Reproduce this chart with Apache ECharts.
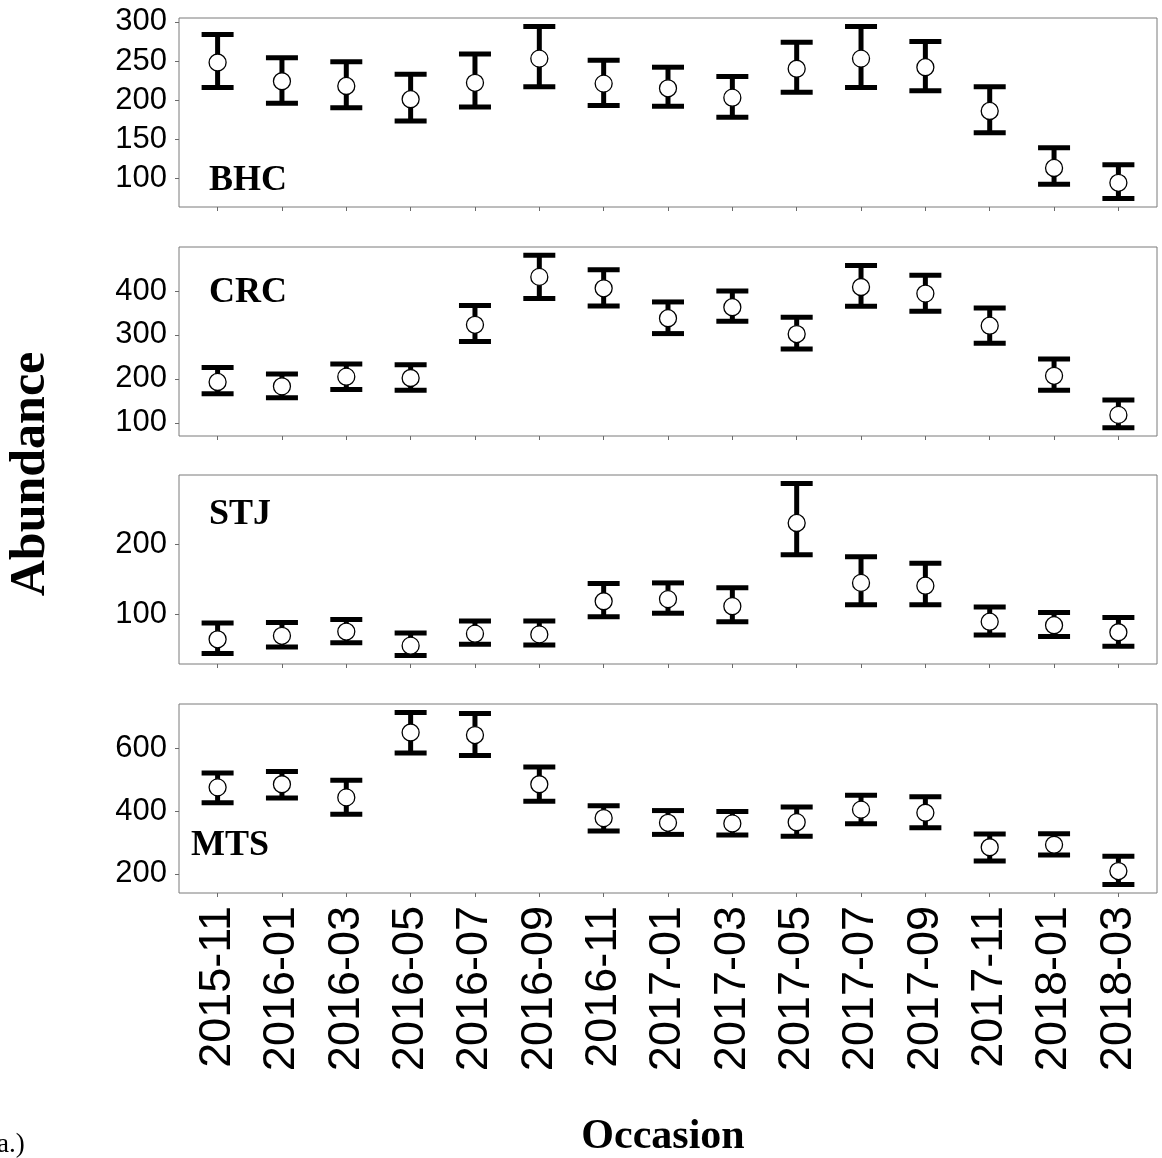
<!DOCTYPE html>
<html>
<head>
<meta charset="utf-8">
<script src="https://cdn.jsdelivr.net/npm/echarts@6/dist/echarts.min.js"></script>
<style>
  html, body { margin: 0; padding: 0; background: #fff; }
  #chart { width: 1162px; height: 1158px; }
</style>
</head>
<body>
<div id="chart"></div>
<script>
// Sampling occasions (shared x axis)
const occasions = ['2015-11','2016-01','2016-03','2016-05','2016-07','2016-09','2016-11',
  '2017-01','2017-03','2017-05','2017-07','2017-09','2017-11','2018-01','2018-03'];

// Site names
const sites = ['BHC', 'CRC', 'STJ', 'MTS'];

// Abundance estimates with lower / upper interval bounds, per site
const bhcEstimate = [248, 224, 218, 201, 222, 253, 221, 215, 203, 240, 253, 242, 186, 113, 94];
const bhcLower    = [216, 196, 190, 173, 191, 217, 193, 192, 178, 210, 216, 212, 158, 92, 74];
const bhcUpper    = [284, 254, 249, 233, 259, 294, 251, 242, 230, 274, 294, 275, 217, 139, 117];

const crcEstimate = [193, 183, 205, 202, 323, 432, 406, 338, 363, 302, 409, 394, 321, 207, 118];
const crcLower    = [166, 157, 176, 174, 285, 383, 366, 303, 331, 268, 365, 354, 281, 174, 89];
const crcUpper    = [226, 211, 234, 232, 367, 481, 448, 375, 400, 340, 458, 436, 361, 245, 152];

const stjEstimate = [65, 70, 76, 56, 73, 72, 119, 122, 112, 230, 145, 141, 90, 85, 75];
const stjLower    = [45, 54, 60, 42, 58, 57, 97, 102, 90, 185, 114, 114, 71, 69, 55];
const stjUpper    = [88, 89, 93, 74, 91, 91, 144, 145, 138, 286, 182, 173, 111, 103, 96];

const mtsEstimate = [476, 486, 444, 651, 643, 486, 378, 363, 361, 365, 405, 395, 285, 293, 209];
const mtsLower    = [427, 442, 390, 586, 578, 432, 337, 326, 324, 320, 360, 347, 241, 260, 166];
const mtsUpper    = [522, 527, 499, 715, 712, 541, 417, 402, 399, 413, 451, 446, 327, 328, 256];

// y-axis tick labels per site
const bhcTicks = [100, 150, 200, 250, 300];
const crcTicks = [100, 200, 300, 400];
const stjTicks = [100, 200];
const mtsTicks = [200, 400, 600];

// y-axis limits per site
const bhcRange = [63, 305];
const crcRange = [70, 500];
const stjRange = [30, 298];
const mtsRange = [139, 742];

const panels = [
  { name: sites[0], est: bhcEstimate, lo: bhcLower, hi: bhcUpper, ticks: bhcTicks, range: bhcRange },
  { name: sites[1], est: crcEstimate, lo: crcLower, hi: crcUpper, ticks: crcTicks, range: crcRange },
  { name: sites[2], est: stjEstimate, lo: stjLower, hi: stjUpper, ticks: stjTicks, range: stjRange },
  { name: sites[3], est: mtsEstimate, lo: mtsLower, hi: mtsUpper, ticks: mtsTicks, range: mtsRange }
];

// panel layout
const panelTops = [18, 247, 475, 704];
const panelHeight = 189;
const panelLeft = 179;
const panelWidth = 978;
const labelPos = [[209, 180.5], [209, 292.5], [209, 514.5], [191, 845.5]];

const sansFont = '"Liberation Sans", Arial, Helvetica, sans-serif';
const serifFont = '"Liberation Serif", "Times New Roman", Times, serif';
const categoryIdx = occasions.map((_, i) => i);

const grids = [], xAxes = [], yAxes = [], series = [], graphics = [];

panels.forEach((p, k) => {
  const last = k === panels.length - 1;
  grids.push({
    left: panelLeft, top: panelTops[k], width: panelWidth, height: panelHeight,
    show: true, borderColor: '#7a7a7a', borderWidth: 1, backgroundColor: '#fff'
  });
  xAxes.push({
    type: 'value', gridIndex: k, min: -0.6, max: 14.6, position: 'bottom',
    axisLine: { show: false, onZero: false },
    splitLine: { show: false },
    axisTick: { show: true, customValues: categoryIdx, length: 4, lineStyle: { color: '#6a6a6a', width: 1 } },
    axisLabel: {
      show: last, customValues: categoryIdx, rotate: 90, margin: 13,
      fontSize: 45, fontFamily: sansFont, color: '#000',
      formatter: v => occasions[Math.round(v)]
    }
  });
  yAxes.push({
    type: 'value', gridIndex: k, min: p.range[0], max: p.range[1], position: 'left',
    axisLine: { show: false, onZero: false },
    splitLine: { show: false },
    axisTick: { show: true, customValues: p.ticks, length: 4, lineStyle: { color: '#6a6a6a', width: 1 } },
    axisLabel: { customValues: p.ticks, margin: 12, fontSize: 31, fontFamily: sansFont, color: '#000' }
  });

  // interval bars with caps
  series.push({
    type: 'custom', xAxisIndex: k, yAxisIndex: k, z: 2,
    data: categoryIdx.map(i => [i, p.lo[i], p.hi[i]]),
    renderItem: (params, api) => {
      const x = api.value(0);
      const top = api.coord([x, api.value(2)]);
      const bot = api.coord([x, api.value(1)]);
      const hw = 16;
      const style = { stroke: '#000', lineWidth: 5, lineCap: 'butt' };
      return {
        type: 'group',
        children: [
          { type: 'line', shape: { x1: top[0], y1: top[1], x2: bot[0], y2: bot[1] }, style },
          { type: 'line', shape: { x1: top[0] - hw, y1: top[1], x2: top[0] + hw, y2: top[1] }, style },
          { type: 'line', shape: { x1: bot[0] - hw, y1: bot[1], x2: bot[0] + hw, y2: bot[1] }, style }
        ]
      };
    }
  });
  // point estimates
  series.push({
    type: 'scatter', xAxisIndex: k, yAxisIndex: k, z: 3,
    symbol: 'circle', symbolSize: 17,
    itemStyle: { color: '#fff', borderColor: '#000', borderWidth: 1.3, opacity: 1 },
    data: categoryIdx.map(i => [i, p.est[i]])
  });

  graphics.push({
    type: 'text', left: labelPos[k][0], top: labelPos[k][1] - 18,
    style: { text: p.name, font: 'bold 36px ' + serifFont, fill: '#000' }
  });
});

graphics.push({
  type: 'text', x: 31, y: 474, rotation: Math.PI / 2,
  style: { text: 'Abundance', font: 'bold 50px ' + serifFont, fill: '#000', align: 'center', verticalAlign: 'middle' }
});
graphics.push({
  type: 'text', x: 663, y: 1137,
  style: { text: 'Occasion', font: 'bold 42px ' + serifFont, fill: '#000', align: 'center', verticalAlign: 'middle' }
});
graphics.push({
  type: 'text', x: -3, y: 1145,
  style: { text: 'a.)', font: '27px ' + serifFont, fill: '#000', align: 'left', verticalAlign: 'middle' }
});

const chart = echarts.init(document.getElementById('chart'), null, { renderer: 'canvas' });
chart.setOption({
  animation: false,
  backgroundColor: '#fff',
  grid: grids,
  xAxis: xAxes,
  yAxis: yAxes,
  series: series,
  graphic: graphics
});
</script>
</body>
</html>
